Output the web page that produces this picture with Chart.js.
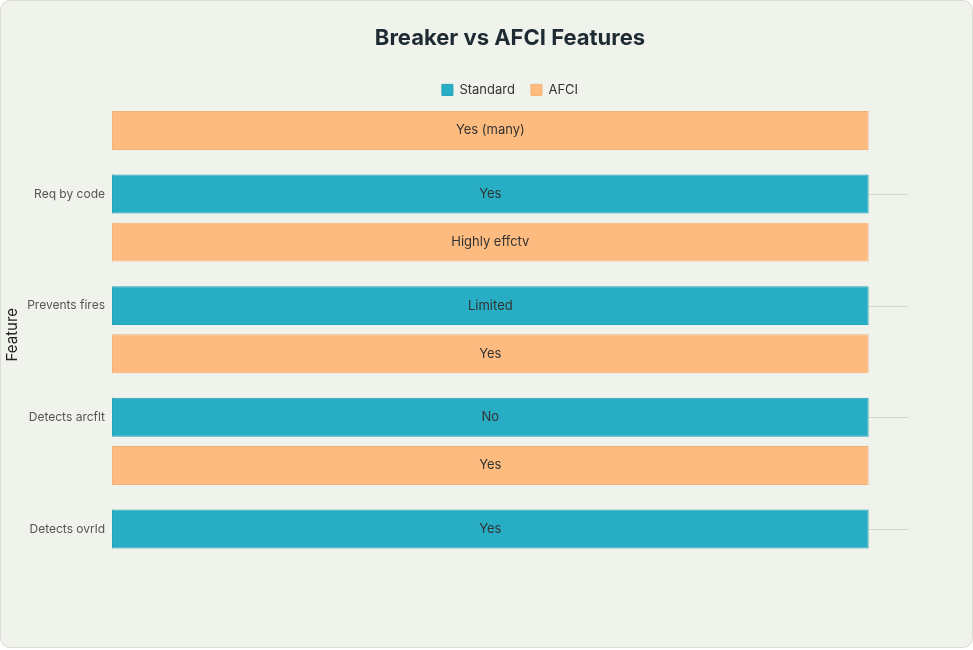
<!DOCTYPE html>
<html><head><meta charset="utf-8">
<script src="https://cdn.jsdelivr.net/npm/chart.js@4/dist/chart.umd.min.js"></script>
<style>
html,body{margin:0;padding:0;background:#fff;}
#wrap{position:absolute;left:0;top:0;width:971px;height:646px;background:#f0f2ec;border:1px solid #d9dcd4;border-radius:10px;overflow:hidden;}
canvas{display:block;}
</style></head><body>
<div id="wrap"><canvas id="c" width="971" height="646"></canvas></div>
<script>
const categories = ["Req by code","Prevents fires","Detects arcflt","Detects ovrld"];
const standardValues = [1,1,1,1];
const afciValues = [1,1,1,1];
const standardText = ["Yes","Limited","No","Yes"];
const afciText = ["Yes (many)","Highly effctv","Yes","Yes"];
const FONT = "Inter, 'Noto Sans', sans-serif";

const overlay = {
  id:'overlay',
  beforeDatasetsDraw(chart){
    const ctx=chart.ctx, a=chart.chartArea;
    const meta=chart.getDatasetMeta(1);
    ctx.save();
    ctx.strokeStyle='#d4d6d0'; ctx.lineWidth=1;
    meta.data.forEach(b=>{ctx.beginPath();ctx.moveTo(a.left,Math.round(b.y)+0.5);ctx.lineTo(a.right,Math.round(b.y)+0.5);ctx.stroke();});
    ctx.restore();
  },
  afterDatasetsDraw(chart){
    const ctx=chart.ctx, a=chart.chartArea;
    ctx.save();
    ctx.font="13px "+FONT; ctx.textAlign='center'; ctx.textBaseline='middle'; ctx.fillStyle='#333';
    [afciText,standardText].forEach((txt,di)=>{
      chart.getDatasetMeta(di).data.forEach((b,i)=>{ctx.fillText(txt[i],(b.base+b.x)/2,b.y);});
    });
    ctx.font="12px "+FONT; ctx.textAlign='right'; ctx.fillStyle='#555';
    chart.getDatasetMeta(1).data.forEach((b,i)=>{ctx.fillText(categories[i],a.left-7,b.y);});
    ctx.translate(11,(a.top+a.bottom)/2+5); ctx.rotate(-Math.PI/2);
    ctx.textAlign='center'; ctx.font="15px "+FONT; ctx.fillStyle='#222';
    ctx.fillText("Feature",0,0);
    ctx.restore();
  }
};

new Chart(document.getElementById('c'),{
  type:'bar',
  data:{labels:categories,datasets:[
    {label:'AFCI',data:afciValues,backgroundColor:'#fdbb7f',borderColor:'#f5b077',borderWidth:1,borderSkipped:false,categoryPercentage:1.1376,barPercentage:0.613},
    {label:'Standard',data:standardValues,backgroundColor:'#27adc4',borderColor:'#24a3b9',borderWidth:1,borderSkipped:false,categoryPercentage:1.1376,barPercentage:0.613}
  ]},
  options:{
    indexAxis:'y',responsive:false,animation:false,
    layout:{padding:{left:111,right:64,top:14,bottom:94}},
    scales:{
      x:{display:false,min:0,max:1.052},
      y:{display:false}
    },
    plugins:{
      title:{display:true,text:'Breaker vs AFCI Features',color:'#1e2b33',font:{family:FONT,size:22,weight:'bold'},padding:{top:10,bottom:16}},
      legend:{reverse:true,labels:{boxWidth:11,boxHeight:11,color:'#333',font:{family:FONT,size:13},padding:16}},
      tooltip:{enabled:false}
    }
  },
  plugins:[overlay]
});
</script></body></html>
